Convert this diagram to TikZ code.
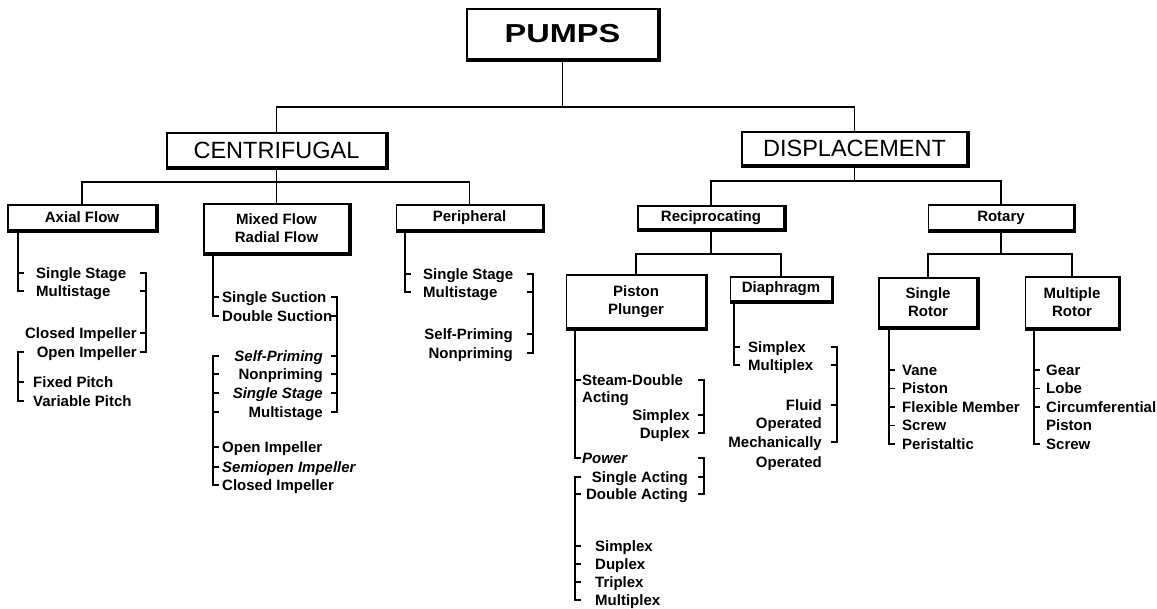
\documentclass[tikz,border=0pt]{standalone}
\usepackage{fontspec}
\usepackage{graphicx}
\setmainfont{Liberation Sans}
\newcommand\itemf{\fontsize{15}{18}\selectfont\bfseries}
\newcommand\bigf{\fontsize{23.5}{28}\selectfont}
\newcommand\tickl[2]{\draw[brk] (#1 |- #2.west) -- ++(6,0);}
\newcommand\tickr[2]{\draw[brk] (#1 |- #2.west) -- ++(-6,0);}
\newcommand\bopenl[3]{\draw[brk] (#1 |- #2.west) ++(6,0) -- (#1 |- #2.west) -- (#1 |- #3.west) -- ++(6,0);}
\newcommand\bopenr[3]{\draw[brk] (#1 |- #2.west) ++(-6,0) -- (#1 |- #2.west) -- (#1 |- #3.west) -- ++(-6,0);}
\newcommand\bstem[3]{\draw[brk] (#1 |- #2.south) -- (#1 |- #3.west) -- ++(6,0);}
\newcommand\heavyedge[2]{\draw[line width=#2] ([shift={(0.8pt,0pt)}]#1.north east) -- ([shift={(0.8pt,-0.8pt)}]#1.south east) -- ([shift={(0pt,-0.8pt)}]#1.south west);}
\tikzset{
  box/.style={draw, line width=1.6pt, inner sep=0pt, align=center, font=\itemf},
  lbl/.style={inner sep=0pt, text height=10.8pt, text depth=0pt, font=\itemf},
  li/.style={lbl, anchor=west},
  ri/.style={lbl, anchor=east},
  conn/.style={line width=1.5pt},
  brk/.style={line width=1.6pt},
}
\begin{document}
\begin{tikzpicture}[x=1pt, y=-1pt]
\fill[white] (0,0) rectangle (1157,609);
\useasboundingbox (0,0) rectangle (1157,609);

% ---- boxes
\node[box, line width=2pt, minimum width=191pt, minimum height=50pt] (pumps) at (562.5,34) {\fontsize{26}{30}\selectfont\bfseries\scalebox{1.25}[1]{PUMPS}};
\node[box, font=\bigf, minimum width=219pt, minimum height=34pt] (cent) at (276.5,150) {CENTRIFUGAL};
\node[box, font=\bigf, minimum width=225pt, minimum height=33pt] (disp) at (854.5,148.5) {DISPLACEMENT};
\node[box, minimum width=148pt, minimum height=25pt] (axial) at (82,217.5) {Axial Flow};
\node[box, minimum width=145pt, minimum height=49pt] (mixed) at (276.5,228.5) {Mixed Flow\\Radial Flow};
\node[box, minimum width=146pt, minimum height=25pt] (periph) at (469.5,217.5) {Peripheral};
\node[box, minimum width=146pt, minimum height=23pt] (recip) at (711,217.5) {Reciprocating};
\node[box, minimum width=145pt, minimum height=25pt] (rotary) at (1001,217.5) {Rotary};
\node[box, minimum width=139pt, minimum height=53pt] (piston) at (636,301.5) {Piston\\Plunger};
\node[box, minimum width=101pt, minimum height=24pt] (diaph) at (781,289) {Diaphragm};
\node[box, minimum width=98pt, minimum height=49pt] (srotor) at (928,302.5) {Single\\Rotor};
\node[box, minimum width=93pt, minimum height=51pt] (mrotor) at (1072,302.5) {Multiple\\Rotor};

\heavyedge{pumps}{3pt}
\foreach \b in {cent,disp,axial,mixed,periph,recip,rotary,piston,diaph,srotor,mrotor}{\heavyedge{\b}{2.2pt}}

% ---- tree connectors
\coordinate (j0) at (562.5,107);
\draw[conn, line width=0.9pt] (pumps.south) -- (j0);
\draw[conn] (cent.north) |- (j0) -| (disp.north);
\coordinate (j1) at (276.5,182);
\draw[conn] (cent.south) -- (mixed.north);
\draw[conn] (axial.north) |- (j1) -| (periph.north);
\coordinate (j2) at (854.5,181);
\draw[conn] (disp.south) -- (j2);
\draw[conn] (recip.north) |- (j2) -| (rotary.north);
\coordinate (j3) at (711,254);
\draw[conn] (recip.south) -- (j3);
\draw[conn] (piston.north) |- (j3) -| (diaph.north);
\coordinate (j4) at (1001,254);
\draw[conn] (rotary.south) -- (j4);
\draw[conn] (srotor.north) |- (j4) -| (mrotor.north);

% ---- Axial Flow
\node[li] (a1) at (36,273) {Single Stage};
\node[li] (a2) at (36,291) {Multistage};
\node[ri] (a3) at (137,333) {Closed Impeller};
\node[ri] (a4) at (137,352) {Open Impeller};
\node[li] (a5) at (33,382) {Fixed Pitch};
\node[li] (a6) at (33,401) {Variable Pitch};
\coordinate (xa) at (18,0);
\coordinate (xar) at (146,0);
\bstem{xa}{axial}{a2}
\tickl{xa}{a1}
\bopenr{xar}{a1}{a4}
\tickr{xar}{a2}
\tickr{xar}{a3}
\bopenl{xa}{a4}{a6}
\tickl{xa}{a5}

% ---- Mixed / Radial Flow
\node[li] (m1) at (222,297) {Single Suction};
\node[li] (m2) at (222,316) {Double Suction};
\node[ri, font=\itemf\itshape] (m3) at (323,356) {Self-Priming};
\node[ri] (m4) at (323,374) {Nonpriming};
\node[ri, font=\itemf\itshape] (m5) at (323,393) {Single Stage};
\node[ri] (m6) at (323,412) {Multistage};
\node[li] (m7) at (222,447) {Open Impeller};
\node[li, font=\itemf\itshape] (m8) at (222,467) {Semiopen Impeller};
\node[li] (m9) at (222,485) {Closed Impeller};
\coordinate (xm) at (213,0);
\coordinate (xmr) at (337,0);
\bstem{xm}{mixed}{m2}
\tickl{xm}{m1}
\bopenr{xmr}{m1}{m6}
\foreach \n in {m2,m3,m4,m5}{\tickr{xmr}{\n}}
\bopenl{xm}{m3}{m9}
\foreach \n in {m4,m5,m6,m7,m8}{\tickl{xm}{\n}}

% ---- Peripheral
\node[li] (p1) at (423,274) {Single Stage};
\node[li] (p2) at (423,292) {Multistage};
\node[ri] (p3) at (513,334) {Self-Priming};
\node[ri] (p4) at (513,353) {Nonpriming};
\coordinate (xp) at (405,0);
\coordinate (xpr) at (533,0);
\bstem{xp}{periph}{p2}
\tickl{xp}{p1}
\bopenr{xpr}{p1}{p4}
\tickr{xpr}{p2}
\tickr{xpr}{p3}

% ---- Piston / Plunger
\node[li] (s1) at (582,380) {Steam-Double};
\node[li] (s2) at (582,397) {Acting};
\node[ri] (s3) at (690,415) {Simplex};
\node[ri] (s4) at (690,433) {Duplex};
\node[li, font=\itemf\itshape] (s5) at (582,458) {Power};
\node[ri] (s6) at (688,477) {Single Acting};
\node[ri] (s7) at (688,494) {Double Acting};
\node[li] (s8) at (595,546) {Simplex};
\node[li] (s9) at (595,564) {Duplex};
\node[li] (s10) at (595,582) {Triplex};
\node[li] (s11) at (595,600) {Multiplex};
\coordinate (xs) at (575,0);
\coordinate (xsr) at (704,0);
\bstem{xs}{piston}{s5}
\tickl{xs}{s1}
\bopenr{xsr}{s1}{s4}
\tickr{xsr}{s3}
\bopenr{xsr}{s5}{s7}
\tickr{xsr}{s6}
\bopenl{xs}{s6}{s11}
\foreach \n in {s7,s8,s9,s10}{\tickl{xs}{\n}}

% ---- Diaphragm
\node[li] (d1) at (748,347) {Simplex};
\node[li] (d2) at (748,365) {Multiplex};
\node[ri] (d3) at (822,405) {Fluid};
\node[ri] (d4) at (822,423) {Operated};
\node[ri] (d5) at (822,442) {Mechanically};
\node[ri] (d6) at (822,462) {Operated};
\coordinate (xd) at (734,0);
\coordinate (xdr) at (837,0);
\bstem{xd}{diaph}{d2}
\tickl{xd}{d1}
\bopenr{xdr}{d1}{d5}
\tickr{xdr}{d2}
\tickr{xdr}{d3}

% ---- Single Rotor
\node[li] (r1) at (902,370) {Vane};
\node[li] (r2) at (902,388.5) {Piston};
\node[li] (r3) at (902,407) {Flexible Member};
\node[li] (r4) at (902,425.5) {Screw};
\node[li] (r5) at (902,444) {Peristaltic};
\coordinate (xr) at (889,0);
\bstem{xr}{srotor}{r5}
\foreach \n in {r1,r2,r3,r4}{\tickl{xr}{\n}}

% ---- Multiple Rotor
\node[li] (q1) at (1046,370) {Gear};
\node[li] (q2) at (1046,388.5) {Lobe};
\node[li] (q3) at (1046,407) {Circumferential};
\node[li] (q4) at (1046,425.5) {Piston};
\node[li] (q5) at (1046,444) {Screw};
\coordinate (xq) at (1034,0);
\bstem{xq}{mrotor}{q5}
\foreach \n in {q1,q2,q3}{\tickl{xq}{\n}}
\end{tikzpicture}
\end{document}
